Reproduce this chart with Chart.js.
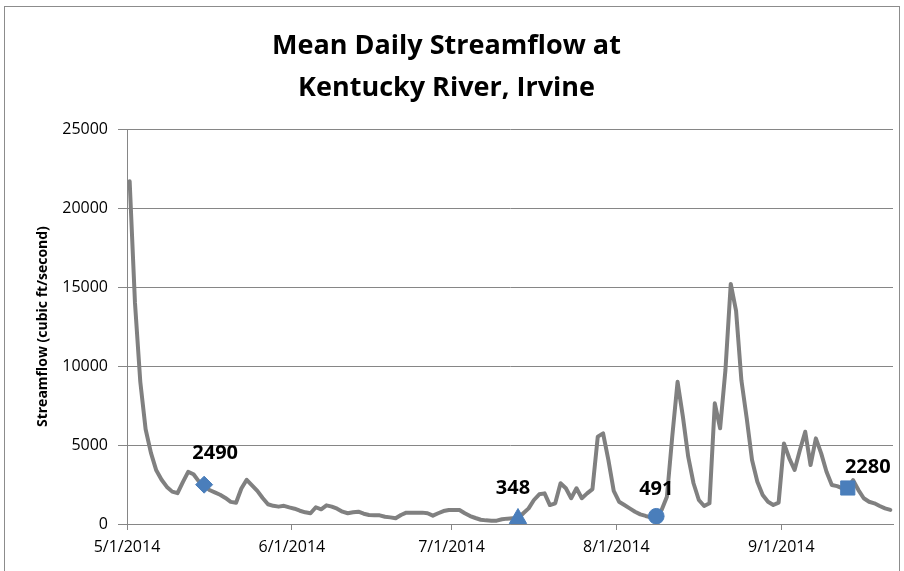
<!DOCTYPE html>
<html>
<head>
<meta charset="utf-8">
<title>Mean Daily Streamflow at Kentucky River, Irvine</title>
<script src="https://cdn.jsdelivr.net/npm/chart.js@4"></script>
<style>
    body { margin: 0; background: #ffffff; }
    #wrap { width: 904px; height: 571px; }
</style>
</head>
<body>
<div id="wrap">
    <canvas id="flowChart" width="904" height="571"></canvas>
</div>
<script>
// Daily mean flow, one value per day starting 5/1/2014 (cubic ft/second)
const flow = [
    21700, 14000, 9000, 6000, 4500, 3400, 2800, 2350, 2050, 1950,
    2650, 3300, 3150, 2700, 2490, 2150, 2000, 1850, 1650, 1400,
    1350, 2250, 2800, 2450, 2100, 1650, 1250, 1150, 1100, 1150,
    1050, 970, 840, 740, 680, 1060, 930, 1180, 1100, 970,
    780, 680, 740, 780, 650, 570, 550, 550, 460, 420,
    360, 570, 720, 720, 720, 720, 680, 530, 680, 820,
    890, 890, 890, 680, 500, 380, 270, 230, 210, 210,
    300, 340, 360, 348, 680, 990, 1520, 1880, 1940, 1200,
    1310, 2580, 2260, 1630, 2260, 1630, 1940, 2210, 5530, 5740,
    4050, 2100, 1410, 1200, 990, 780, 610, 510, 420, 491,
    890, 1730, 5530, 9000, 6800, 4260, 2580, 1520, 1140, 1310,
    7640, 6060, 9750, 15200, 13500, 9100, 6700, 4050, 2680, 1840,
    1410, 1200, 1350, 5100, 4160, 3420, 4680, 5840, 3730, 5420,
    4470, 3310, 2470, 2400, 2260, 2280, 2780, 2150, 1630, 1410,
    1310, 1140, 990, 890
];

// x axis: day number of each month start and its label
const monthDays = [0, 31, 61, 92, 123];
const monthLabels = ["5/1/2014", "6/1/2014", "7/1/2014", "8/1/2014", "9/1/2014"];

const yTicks = [0, 5000, 10000, 15000, 20000, 25000];

// highlighted days (index into flow) and their labelled values
const markerDays = [14, 73, 99, 135];
const markerValues = [2490, 348, 491, 2280];
const markerShapes = ["rectRot", "triangle", "circle", "rect"];

// label offsets from the marker (px)
const labelOffsets = [[11, -31], [-5, -30], [0, -27], [20, -21]];

Chart.defaults.font.family = "'Open Sans', 'Liberation Sans', sans-serif";
Chart.defaults.color = "#000000";

const frame = {
    id: "frame",
    beforeDraw(chart) {
        const c = chart.ctx;
        c.save();
        c.fillStyle = "#ffffff";
        c.fillRect(0, 0, chart.width, chart.height);
        c.strokeStyle = "#8c8c8c";
        c.lineWidth = 1;
        c.strokeRect(4.5, 6.5, 895, 580);
        c.restore();
    }
};

const markerLabels = {
    id: "markerLabels",
    afterDatasetsDraw(chart) {
        const c = chart.ctx;
        const xs = chart.scales.x;
        const ys = chart.scales.y;
        c.save();
        c.font = "bold 20px 'Open Sans', 'Liberation Sans', sans-serif";
        c.fillStyle = "#000000";
        c.textAlign = "center";
        c.textBaseline = "middle";
        markerDays.forEach((d, i) => {
            const px = xs.getPixelForValue(d);
            const py = ys.getPixelForValue(markerValues[i]);
            c.fillText(String(markerValues[i]), px + labelOffsets[i][0], py + labelOffsets[i][1]);
        });
        c.restore();
    }
};

const ctx = document.getElementById("flowChart").getContext("2d");

const flowChart = new Chart(ctx, {
    type: "line",
    data: {
        datasets: [
            {
                label: "Highlighted days",
                data: markerDays.map((d, i) => ({ x: d, y: markerValues[i] })),
                showLine: false,
                pointStyle: markerShapes,
                pointRadius: [8.5, 10, 7.8, 10],
                backgroundColor: "#4a7ebb",
                borderColor: "#4a7ebb",
                borderWidth: 1,
                order: 0
            },
            {
                label: "Mean daily streamflow",
                data: flow.map((v, i) => ({ x: i, y: v })),
                borderColor: "#808080",
                borderWidth: 4,
                borderJoinStyle: "round",
                borderCapStyle: "round",
                pointRadius: 0,
                tension: 0,
                order: 1
            }
        ]
    },
    options: {
        responsive: false,
        animation: false,
        layout: {
            padding: { left: 0, right: 11, top: 0, bottom: 0 }
        },
        plugins: {
            legend: { display: false },
            tooltip: { enabled: false },
            title: {
                display: true,
                text: ["Mean Daily Streamflow at", "Kentucky River, Irvine"],
                color: "#000000",
                font: { size: 27, weight: "bold", lineHeight: 1.54 },
                padding: { top: 26, bottom: 20 }
            }
        },
        scales: {
            x: {
                type: "linear",
                min: -0.5,
                max: flow.length - 0.5,
                afterBuildTicks: scale => {
                    scale.ticks = monthDays.map(d => ({ value: d - 0.5 }));
                },
                afterFit: scale => {
                    scale.height = 47;
                },
                ticks: {
                    autoSkip: false,
                    maxRotation: 0,
                    padding: 8,
                    font: { size: 16 },
                    callback: (value, index) => monthLabels[index]
                },
                grid: {
                    drawOnChartArea: false,
                    drawTicks: true,
                    tickLength: 6,
                    color: "#868686"
                },
                border: { display: true, color: "#868686", width: 1 }
            },
            y: {
                min: 0,
                max: 25000,
                afterBuildTicks: scale => {
                    scale.ticks = yTicks.map(v => ({ value: v }));
                },
                afterFit: scale => {
                    scale.width = 127;
                },
                ticks: {
                    padding: 10,
                    font: { size: 16 },
                    callback: value => String(value)
                },
                grid: {
                    color: "#868686",
                    tickLength: 9
                },
                border: { display: true, color: "#868686", width: 1 },
                title: {
                    display: true,
                    text: "Streamflow (cubic ft/second)",
                    color: "#000000",
                    font: { size: 14, weight: "bold" },
                    padding: { top: 35, bottom: 0 }
                }
            }
        }
    },
    plugins: [frame, markerLabels]
});
</script>
</body>
</html>
